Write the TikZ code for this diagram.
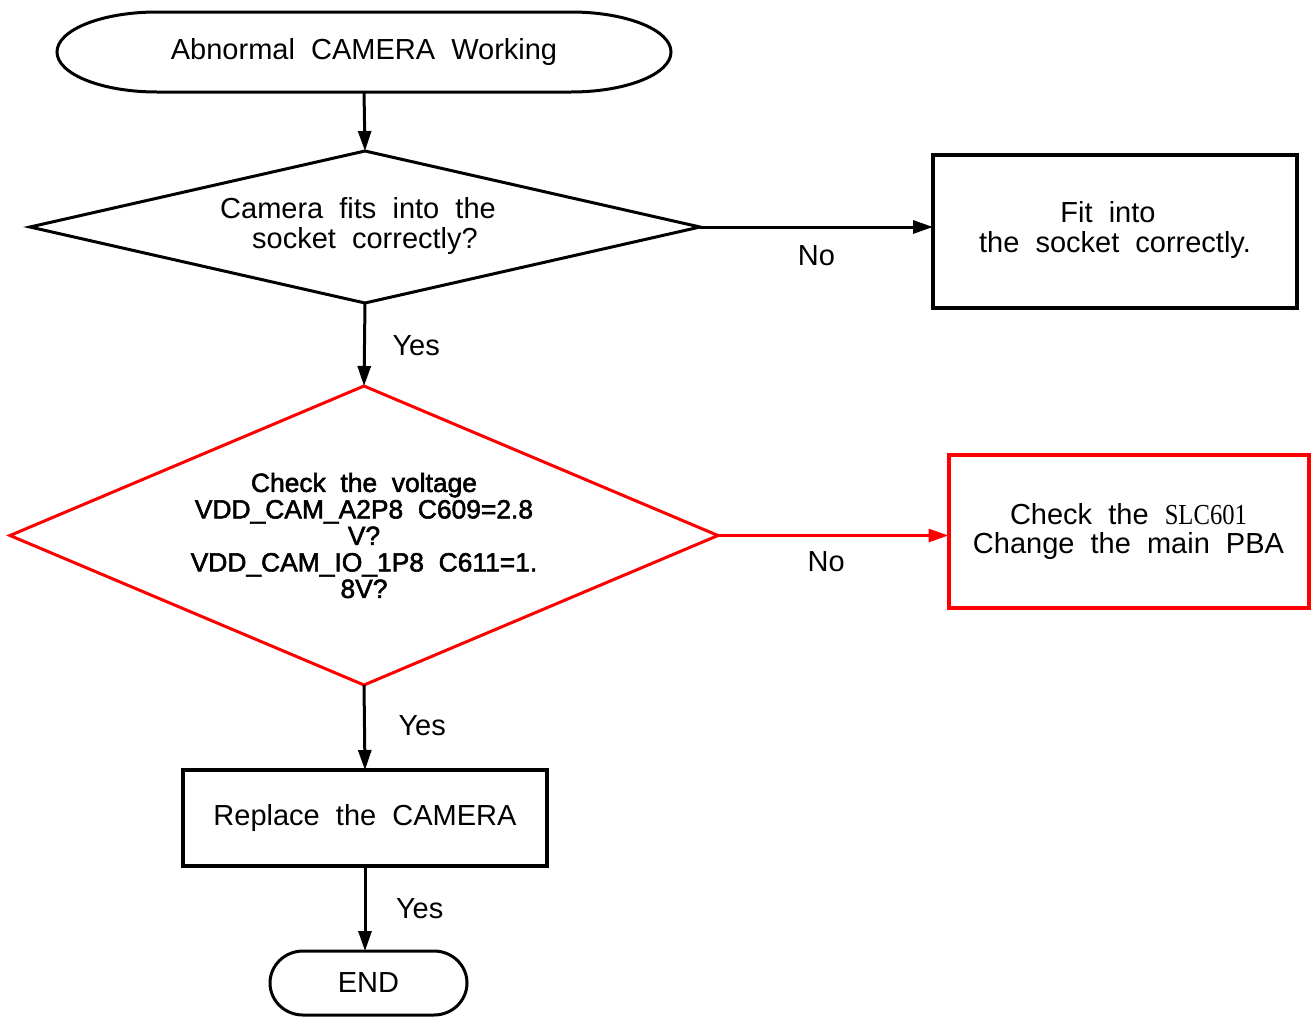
\documentclass[tikz,border=0pt]{standalone}
\usepackage{fontspec}
\setmainfont{Liberation Sans}[WordSpace=2]
\newfontfamily\boldish{Liberation Sans}[WordSpace=2,FakeBold=2]
\newfontfamily\serifc{Liberation Serif}[FakeStretch=0.85]
\usetikzlibrary{shapes.geometric,arrows.meta}
\begin{document}
\begin{tikzpicture}[x=1pt,y=1pt,
  every node/.style={font=\fontsize{29}{29.5}\selectfont, align=center, inner sep=0pt, outer sep=0pt},
  box/.style={draw, rectangle, line width=3.5pt},
  dia/.style={draw, diamond, line width=3pt},
  arr/.style={line width=3pt, -{Triangle[length=20pt,width=13pt]}},
  lab/.style={text=black}]
\useasboundingbox (0,0) rectangle (1311,-1017);

% start terminal
\node (start) [minimum width=614pt, minimum height=80pt] at (364,-52) {\raisebox{-2pt}{Abnormal CAMERA Working}};
\draw[line width=3pt] ([xshift=100pt]start.north west) -- ([xshift=-100pt]start.north east)
  arc[start angle=90, end angle=-90, x radius=100pt, y radius=40pt]
  -- ([xshift=100pt]start.south west)
  arc[start angle=270, end angle=90, x radius=100pt, y radius=40pt] -- cycle;

% decisions
\node (d1) [dia, minimum width=670pt, minimum height=152pt, shape aspect=4.4] at (365,-227)
  {\raisebox{-2pt}{\begin{tabular}{@{}c@{}}Camera fits into the\kern14pt\\socket correctly?\end{tabular}}};
\node (d2) [dia, draw=red, minimum width=708pt, minimum height=299pt, shape aspect=2.37,
  font=\boldish\fontsize{26.4}{26.5}\selectfont] at (364,-535.5)
  {Check the voltage\\VDD\_CAM\_A2P8 C609=2.8\\V?\\VDD\_CAM\_IO\_1P8 C611=1.\\8V?};

% boxes
\node (b1) [box, minimum width=364pt, minimum height=153pt] at (1115,-231.5)
  {\raisebox{-1pt}{\begin{tabular}{@{}c@{}}Fit into\kern14pt\\the socket correctly.\end{tabular}}};
\node (b2) [box, draw=red, line width=4pt, minimum width=360pt, minimum height=153pt] at (1128.5,-531.5)
  {Check the {\serifc SLC601}\\Change the main PBA};
\node (b3) [box, minimum width=364pt, minimum height=96pt] at (365,-818) {Replace the CAMERA};

% end terminal
\node (fin) [minimum width=197pt, minimum height=64pt] at (368.5,-983) {END};
\draw[line width=3pt] ([xshift=33pt]fin.north west) -- ([xshift=-33pt]fin.north east)
  arc[start angle=90, end angle=-90, x radius=33pt, y radius=32pt]
  -- ([xshift=33pt]fin.south west)
  arc[start angle=270, end angle=90, x radius=33pt, y radius=32pt] -- cycle;

% connectors
\draw[arr] (start.south) -- (d1.north);
\draw[arr] (d1.east) -- (d1.east -| b1.west) node[lab, midway, yshift=-29pt] {No};
\draw[arr] (d1.south) -- (d2.north) node[lab, midway, anchor=west, xshift=28pt, yshift=-1pt] {Yes};
\draw[arr, red] (d2.east) -- (d2.east -| b2.west) node[lab, midway, xshift=-7pt, yshift=-26pt] {No};
\draw[arr] (d2.south) -- (b3.north) node[lab, midway, anchor=west, xshift=34pt, yshift=2pt] {Yes};
\draw[arr] (b3.south) -- (b3.south |- fin.north) node[lab, midway, anchor=west, xshift=31pt] {Yes};
\end{tikzpicture}
\end{document}
